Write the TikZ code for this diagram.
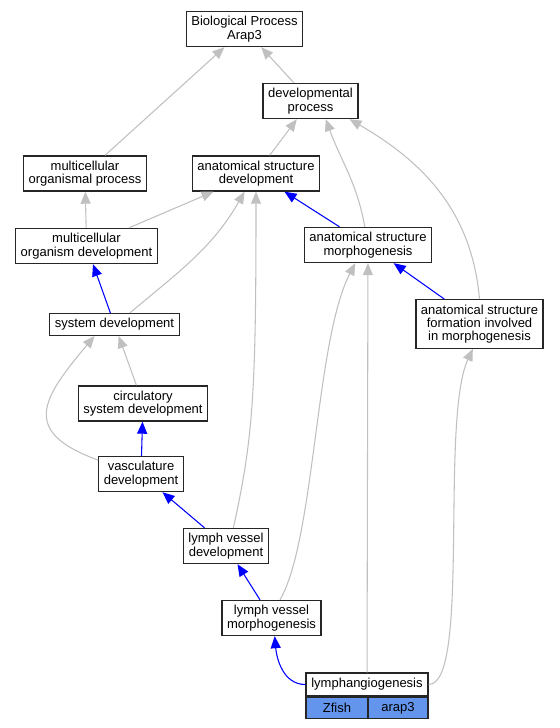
\documentclass[tikz,border=0pt]{standalone}
\usepackage{fontspec}
\setmainfont{Liberation Sans}
\usetikzlibrary{arrows.meta}
\definecolor{linkgray}{HTML}{C0C0C0}
\definecolor{zfblue}{HTML}{6495ED}

\begin{document}
\begin{tikzpicture}[x=0.75pt,y=-0.75pt]
	\tikzstyle{term}=[draw=black!85,line width=1pt,fill=white,align=center,inner xsep=3.8pt,inner ysep=3.6pt,font=\fontsize{9.75}{10}\selectfont]
	\tikzstyle{grayedge}=[color=linkgray,line width=0.8pt,-{Triangle[length=9pt,width=7.5pt]}]
	\tikzstyle{blueedge}=[grayedge,color=blue]
	\useasboundingbox (0,0) rectangle (560,728);
		% terms
		\node[term] (bp) at (244.5,29) {Biological Process\\Arap3};
		\node[term] (dp) at (310.5,101) {developmental\\process};
		\node[term] (mop) at (85,173.5) {multicellular\\organismal process};
		\node[term] (asd) at (256,173.5) {anatomical structure\\development};
		\node[term] (mod) at (86.5,246) {multicellular\\organism development};
		\node[term] (asm) at (368,245) {anatomical structure\\morphogenesis};
		\node[term] (sd) at (114.5,324.5) {system development};
		\node[term] (asf) at (479.5,324) {anatomical structure\\formation involved\\in morphogenesis};
		\node[term] (csd) at (143,403.5) {circulatory\\system development};
		\node[term] (vd) at (141,474) {vasculature\\development};
		\node[term] (lvd) at (226,546) {lymph vessel\\development};
		\node[term] (lvm) at (271.5,618) {lymph vessel\\morphogenesis};
		\node[term,minimum width=91.5pt,minimum height=17.25pt] (lg) at (367,684.5) {lymphangiogenesis};
		\node[term,fill=zfblue,minimum width=46.5pt,minimum height=15.75pt,anchor=north west] (zf) at (lg.south west) {Zfish};
		\node[term,fill=zfblue,minimum width=45pt,minimum height=15.75pt,anchor=north east] (ar) at (lg.south east) {arap3};
		% links
			\draw[grayedge] (dp) edge (bp);
			\draw[grayedge] (mop) edge (bp);
			\draw[grayedge] (asd) edge (dp);
			\draw[grayedge] (asm.100) to[out=100,in=-70] (dp.-50);
			\draw[grayedge] (asf.north) to[out=95,in=-30] (dp.-25);
			\draw[grayedge] (mod) edge (mop);
			\draw[grayedge] (mod) edge (asd);
			\draw[blueedge] (asm) edge (asd);
			\draw[blueedge] (sd) edge (mod);
			\draw[grayedge] (sd.37) to[out=40,in=-120] (asd.-122);
			\draw[blueedge] (asf) edge (asm);
			\draw[grayedge] (csd) edge (sd);
			\draw[grayedge] (vd.162) to[out=160,in=-130,looseness=1.7] (sd.-150);
			\draw[blueedge] (vd) edge (csd);
			\draw[blueedge] (lvd) edge (vd);
			\draw[grayedge] (lvd.68) .. controls +(20,-90) and +(0,200) .. (asd.south);
			\draw[blueedge] (lvm) edge (lvd);
			\draw[grayedge] (lvm.65) .. controls +(35,-60) and +(-40,77) .. (asm.-125);
			\draw[blueedge] (lg.west) to[out=180,in=-85] (lvm.-80);
			\draw[grayedge] (lg) edge (asm);
			\draw[grayedge] (lg.east) .. controls +(42,0) and +(-33,71) .. (asf.-105);
\end{tikzpicture}
\end{document}
